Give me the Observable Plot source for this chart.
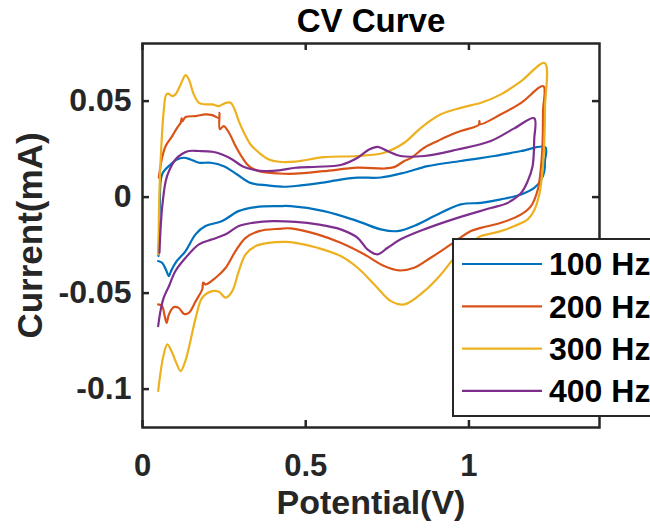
<!DOCTYPE html>
<html>
<head>
<meta charset="utf-8">
<script src="https://cdn.jsdelivr.net/npm/d3@7"></script>
<script src="https://cdn.jsdelivr.net/npm/@observablehq/plot@0.6"></script>
<style>
  html, body { margin: 0; padding: 0; background: #fff; overflow: hidden; }
</style>
</head>
<body>
<div id="chart"></div>
<script>
// ---- data ----
const seriesNames = ["100 Hz", "200 Hz", "300 Hz", "400 Hz"];
const seriesColors = ["#0072BD", "#D95319", "#EDB120", "#7E2F8E"];

const potential100 = [0.049,0.051,0.053,0.060,0.086,0.104,0.127,0.147,0.173,0.209,0.249,0.290,0.331,0.383,0.433,0.485,0.546,0.607,0.659,0.730,0.802,0.873,0.975,1.078,1.160,1.234,
  1.233,1.231,1.221,1.200,1.160,1.098,
  1.037,0.975,0.894,0.843,0.781,0.730,0.659,0.556,0.454,0.417,0.347,0.294,0.244,0.193,0.163,0.132,0.101,0.086,0.081,0.071,0.060,0.048];
const current100 = [-0.0307,-0.0177,-0.0047,0.0118,0.0170,0.0195,0.0205,0.0196,0.0179,0.0179,0.0161,0.0118,0.0074,0.0061,0.0054,0.0061,0.0074,0.0091,0.0101,0.0102,0.0127,0.0161,0.0188,0.0214,0.0240,0.0260,
  0.0188,0.0135,0.0089,0.0048,0.0014,-0.0012,
  -0.0030,-0.0038,-0.0099,-0.0142,-0.0177,-0.0168,-0.0125,-0.0073,-0.0047,-0.0047,-0.0052,-0.0073,-0.0125,-0.0151,-0.0193,-0.0281,-0.0342,-0.0391,-0.0411,-0.0375,-0.0342,-0.0333];

const potential200 = [0.050,0.060,0.071,0.091,0.106,0.117,0.120,0.122,0.132,0.163,0.193,0.214,0.234,0.236,0.237,0.249,0.265,0.285,0.306,0.326,0.357,0.418,0.469,0.556,0.659,0.740,0.771,0.802,0.822,0.863,0.904,0.924,0.975,1.030,1.032,1.034,1.098,1.160,1.228,
  1.227,1.226,1.221,1.211,1.190,1.160,1.098,1.037,
  1.006,0.945,0.883,0.832,0.786,0.740,0.679,0.607,0.536,0.454,0.418,0.357,0.316,0.285,0.255,0.224,0.193,0.186,0.183,0.163,0.142,0.127,0.111,0.096,0.081,0.074,0.068,0.060,0.048];
const current200 = [0.0101,0.0205,0.0266,0.0318,0.0361,0.0387,0.0410,0.0395,0.0417,0.0422,0.0431,0.0427,0.0413,0.0439,0.0353,0.0370,0.0335,0.0266,0.0205,0.0161,0.0135,0.0123,0.0122,0.0135,0.0153,0.0149,0.0156,0.0188,0.0203,0.0257,0.0292,0.0309,0.0344,0.0376,0.0396,0.0380,0.0431,0.0491,0.0578,
  0.0448,0.0301,0.0161,0.0040,-0.0047,-0.0090,-0.0134,-0.0160,
  -0.0177,-0.0246,-0.0316,-0.0368,-0.0382,-0.0359,-0.0298,-0.0238,-0.0194,-0.0163,-0.0165,-0.0177,-0.0212,-0.0281,-0.0368,-0.0420,-0.0455,-0.0445,-0.0480,-0.0542,-0.0603,-0.0608,-0.0577,-0.0573,-0.0611,-0.0655,-0.0620,-0.0568,-0.0559];

const potential300 = [0.049,0.050,0.052,0.058,0.065,0.073,0.081,0.091,0.101,0.117,0.132,0.142,0.157,0.173,0.193,0.214,0.234,0.255,0.270,0.280,0.295,0.311,0.331,0.357,0.387,0.418,0.469,0.556,0.659,0.740,0.802,0.853,0.914,0.975,1.037,1.098,1.160,1.232,
  1.233,1.231,1.226,1.216,1.200,1.180,1.139,1.092,1.037,
  1.027,0.965,0.914,0.863,0.802,0.761,0.710,0.659,0.607,0.536,0.469,0.439,0.387,0.347,0.316,0.295,0.275,0.255,0.234,0.214,0.183,0.163,0.142,0.129,0.117,0.104,0.091,0.076,0.064,0.055,0.048];
const current300 = [-0.0297,-0.0125,0.0031,0.0274,0.0448,0.0535,0.0538,0.0526,0.0535,0.0587,0.0635,0.0613,0.0535,0.0491,0.0483,0.0483,0.0474,0.0491,0.0491,0.0465,0.0396,0.0335,0.0274,0.0231,0.0196,0.0184,0.0185,0.0208,0.0214,0.0231,0.0283,0.0361,0.0431,0.0465,0.0491,0.0535,0.0604,0.0698,
  0.0465,0.0292,0.0146,0.0018,-0.0068,-0.0116,-0.0151,-0.0180,-0.0203,
  -0.0212,-0.0298,-0.0403,-0.0490,-0.0559,-0.0542,-0.0455,-0.0368,-0.0307,-0.0264,-0.0238,-0.0233,-0.0238,-0.0255,-0.0298,-0.0385,-0.0490,-0.0524,-0.0493,-0.0490,-0.0524,-0.0629,-0.0785,-0.0865,-0.0906,-0.0865,-0.0811,-0.0767,-0.0828,-0.0917,-0.1010];

const potential400 = [0.052,0.055,0.060,0.071,0.081,0.101,0.122,0.142,0.173,0.214,0.244,0.275,0.306,0.337,0.377,0.418,0.469,0.536,0.607,0.659,0.694,0.720,0.751,0.791,0.863,0.965,1.067,1.139,1.200,
  1.200,1.195,1.180,1.160,1.119,1.067,
  0.965,0.863,0.791,0.751,0.720,0.689,0.659,0.607,0.536,0.469,0.398,0.337,0.295,0.255,0.214,0.173,0.132,0.101,0.081,0.065,0.055,0.048];
const current400 = [-0.0290,-0.0177,-0.0056,0.0083,0.0135,0.0196,0.0226,0.0240,0.0240,0.0236,0.0222,0.0196,0.0161,0.0144,0.0135,0.0139,0.0153,0.0158,0.0167,0.0205,0.0248,0.0262,0.0240,0.0214,0.0214,0.0248,0.0292,0.0358,0.0411,
  0.0301,0.0161,0.0083,0.0022,-0.0030,-0.0057,
  -0.0108,-0.0168,-0.0220,-0.0264,-0.0298,-0.0272,-0.0212,-0.0168,-0.0142,-0.0129,-0.0125,-0.0134,-0.0151,-0.0194,-0.0220,-0.0246,-0.0316,-0.0385,-0.0464,-0.0524,-0.0594,-0.0672];

const xTicks = [0, 0.5, 1];
const xTickLabels = ["0", "0.5", "1"];
const yTicks = [-0.1, -0.05, 0, 0.05];
const yTickLabels = ["-0.1", "-0.05", "0", "0.05"];
const titleText = "CV Curve";
const xLabel = "Potential(V)";
const yLabel = "Current(mA)";

// ---- build table ----
const potentials = [potential100, potential200, potential300, potential400];
const currents = [current100, current200, current300, current400];
const rows = [];
seriesNames.forEach((s, k) => {
  const n = Math.min(potentials[k].length, currents[k].length);
  if (potentials[k].length !== currents[k].length) console.warn("length mismatch", s, potentials[k].length, currents[k].length);
  for (let j = 0; j < n; j++) rows.push({s, v: potentials[k][j], i: currents[k][j]});
});

const W = 650, H = 529;
const mL = 142, mR = 51, mT = 43, mB = 102;
const innerW = W - mL - mR, innerH = H - mT - mB;
const ink = "#262626";
const font = "'Liberation Sans', Arial, Helvetica, sans-serif";

const chart = Plot.plot({
  width: W, height: H,
  marginLeft: mL, marginRight: mR, marginTop: mT, marginBottom: mB,
  style: {fontFamily: font, background: "#fff", overflow: "hidden"},
  x: {domain: [0, 1.4]},
  y: {domain: [-0.12, 0.08]},
  color: {domain: seriesNames, range: seriesColors},
  marks: [
    Plot.line(rows, {x: "v", y: "i", z: "s", stroke: "s", strokeWidth: 2.2, curve: "catmull-rom"}),
    Plot.frame({stroke: ink, strokeWidth: 2.5}),
    Plot.tickX(xTicks, {x: d => d, insetTop: innerH - 7, stroke: ink, strokeWidth: 2.5}),
    Plot.tickX(xTicks, {x: d => d, insetBottom: innerH - 7, stroke: ink, strokeWidth: 2.5}),
    Plot.tickY(yTicks, {y: d => d, insetRight: innerW - 7, stroke: ink, strokeWidth: 2.5}),
    Plot.tickY(yTicks, {y: d => d, insetLeft: innerW - 7, stroke: ink, strokeWidth: 2.5}),
    Plot.axisX({ticks: xTicks, tickSize: 0, tickPadding: 26, label: null,
      tickFormat: d => xTickLabels[xTicks.indexOf(d)],
      fontSize: 31, fontWeight: "bold", fill: ink}),
    Plot.axisY({ticks: yTicks, tickSize: 0, tickPadding: 11, label: null,
      tickFormat: d => yTickLabels[yTicks.indexOf(d)],
      fontSize: 32, fontWeight: "bold", fill: ink}),
    Plot.text([xLabel], {text: d => d, frameAnchor: "bottom", dy: 76, lineAnchor: "middle", textAnchor: "middle", fontSize: 34, fontWeight: "bold", fill: ink}),
    Plot.text([yLabel], {text: d => d, frameAnchor: "left", dx: -112, rotate: -90, lineAnchor: "middle", textAnchor: "middle", fontSize: 35, fontWeight: "bold", fill: ink}),
    Plot.text([titleText], {text: d => d, frameAnchor: "top", dy: -22, lineAnchor: "middle", textAnchor: "middle", fontSize: 33, fontWeight: "bold", fill: "#000"})
  ]
});

// ---- legend (MATLAB-style box, partially outside the figure) ----
const svg = d3.select(chart);
const lg = svg.append("g").attr("font-family", font).attr("text-anchor", "start");
lg.append("rect").attr("x", 453).attr("y", 239).attr("width", 230).attr("height", 177)
  .attr("fill", "#fff").attr("stroke", ink).attr("stroke-width", 2);
seriesNames.forEach((s, k) => {
  const cy = 264 + k * 42.3;
  lg.append("line").attr("x1", 462).attr("x2", 542).attr("y1", cy).attr("y2", cy)
    .attr("stroke", seriesColors[k]).attr("stroke-width", 2.2);
  lg.append("text").attr("x", 549).attr("y", cy).attr("dy", "0.35em").attr("text-anchor", "start")
    .attr("font-size", 32).attr("font-weight", "bold").attr("fill", "#000").text(s);
});

document.getElementById("chart").appendChild(chart);
</script>
</body>
</html>
